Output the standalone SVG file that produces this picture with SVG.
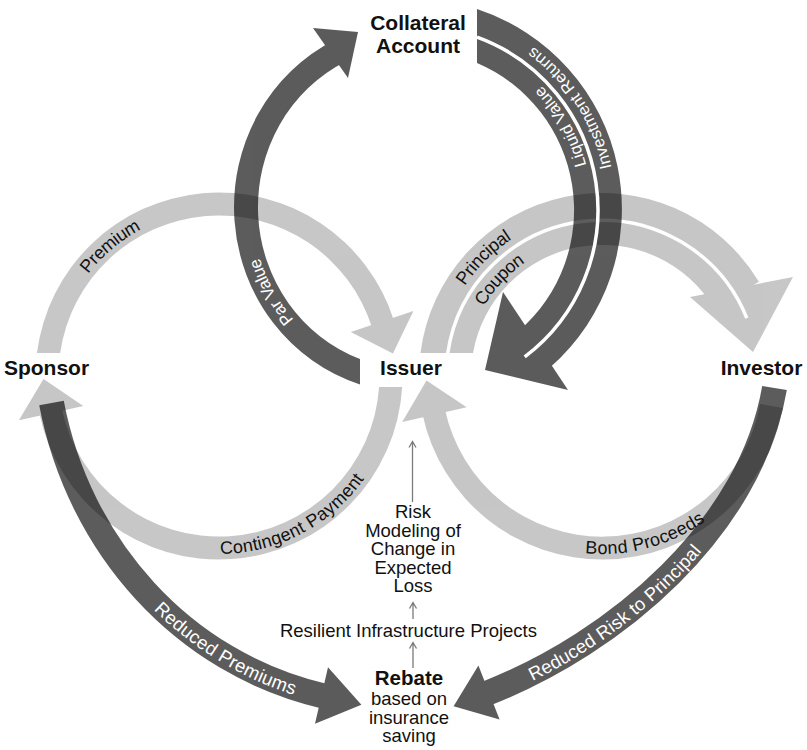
<svg xmlns="http://www.w3.org/2000/svg" width="807" height="750" viewBox="0 0 807 750">
<defs>
<style>
.node{font-family:"Liberation Sans",Arial,Helvetica,sans-serif;font-weight:bold;font-size:21px;fill:#111;text-anchor:middle}
.note{font-family:"Liberation Sans",Arial,Helvetica,sans-serif;font-size:18.5px;fill:#111;text-anchor:middle}
.light{opacity:0.22}
.dark{opacity:0.64}
.band{fill:#000}
.sband{fill:none;stroke:#000;stroke-width:25;stroke-linecap:butt}
.gap{fill:none;stroke:#fff;stroke-width:3.5}
.lbl{font-family:"Liberation Sans",Arial,Helvetica,sans-serif;font-size:18px;text-anchor:middle}
.w{fill:#fff}
.k{fill:#111}
.thin{stroke:#7a7a7a;stroke-width:1.3;fill:none}
</style>
<path id="tp-premium" d="M57.4,317.2 A172,172 0 0 1 189.1,206.6"/>
<path id="tp-contingent" d="M160.2,537.6 A172,172 0 0 0 385.1,420.5"/>
<path id="tp-principal" d="M437.8,332 A170,170 0 0 1 558,211.8"/>
<path id="tp-coupon" d="M462.1,346.3 A143,143 0 0 1 557.8,240"/>
<path id="tp-bond" d="M516,525 A172,172 0 0 0 751,462"/>
<path id="tp-par" d="M330,357.7 A168,174 0 0 1 246,207"/>
<path id="tp-invret" d="M605.7,250.7 A196,196 0 0 0 454.7,18.3"/>
<path id="tp-liquid" d="M579.7,256 A172,172 0 0 0 460,44.3"/>
<path id="tp-redprem" d="M51.5,403 C78.7,546 182.4,663.3 324.4,696.2"/>
<path id="tp-redrisk" d="M489,692.5 C619.3,641.5 750.7,527.9 774.5,390"/>
</defs>
<rect width="807" height="750" fill="#fff"/>

<g id="connectors">
  <g id="conn-premium" class="light">
    <path class="band" d="M36.95,353 A183.5,183.5 0 0 1 394,320.8 L372.1,327.7 A160.5,160.5 0 0 0 60.16,353 Z"/>
    <polygon class="band" points="413.4,310.9 392.9,353.6 350.8,331.9"/>
  </g>
  <g id="conn-contingent" class="light">
    <path class="band" d="M402.2,387 A183.5,183.5 0 0 1 39.2,412.6 L61.7,408 A160.5,160.5 0 0 0 379.1,387 Z"/>
    <polygon class="band" points="83.3,406.1 43.5,379 18.9,420.3"/>
  </g>
  <g id="conn-bond" class="light">
    <path class="band" d="M782.7,407.9 A183.5,183.5 0 0 1 422.5,414.2 L445,409.4 A160.5,160.5 0 0 0 760.1,403.9 Z"/>
    <polygon class="band" points="466.6,407.3 426.5,380.6 402.2,422.1"/>
  </g>
  <g id="conn-principal-coupon" class="light">
    <path class="band" d="M420.5,353 A183,183 0 0 1 758.9,281.8 L714.3,308.5 A131,131 0 0 0 473,353 Z"/>
    <polygon class="band" points="690,297 753,352 793,277"/>
    <path class="gap" d="M447.7,353.5 A156,156 0 0 1 746.8,318.1"/>
  </g>
  <g id="conn-par" class="dark">
    <path class="band" d="M360,384.4 A180,186 0 0 1 335.1,39.8 L345.6,61.4 A156,162 0 0 0 360,359 Z"/>
    <polygon class="band" points="313,28 358,32 348,78"/>
  </g>
  <g id="conn-collateral-issuer">
    <g class="dark">
      <path class="band" d="M477,9 A210.5,210.5 0 0 1 550.5,367 L519,330.8 A160,160 0 0 0 477,62.9 Z"/>
      <polygon class="band" points="503,292 485,370 568,390"/>
    </g>
    <path class="gap" d="M477,37.1 A184,184 0 0 1 524.7,356.9"/>
  </g>
  <g id="conn-reduced-premiums" class="dark">
    <path class="sband" d="M51.5,403 C78.7,546 182.4,663.3 324.4,696.2"/>
    <polygon class="band" points="328,667.3 361.4,704.7 315,723.7"/>
  </g>
  <g id="conn-reduced-risk" class="dark">
    <path class="sband" d="M774.5,388 C750.7,527.9 616.5,642.6 486.2,693.6"/>
    <polygon class="band" points="478.4,665.5 453.6,706.3 499.6,719.5"/>
  </g>
  <g id="conn-thin">
    <path class="thin" d="M412.5,502 V442 M409,447.5 L412.5,441.5 L416,447.5"/>
    <path class="thin" d="M413,619 V603 M409.5,608.5 L413,602.5 L416.5,608.5"/>
    <path class="thin" d="M413,668 V643 M409.5,648.5 L413,642.5 L416.5,648.5"/>
  </g>
</g>

<g id="connector-labels">
  <text class="lbl k" dominant-baseline="central"><textPath href="#tp-premium" startOffset="50%" dominant-baseline="central">Premium</textPath></text>
  <text class="lbl k" dominant-baseline="central"><textPath href="#tp-contingent" startOffset="50%" dominant-baseline="central">Contingent Payment</textPath></text>
  <text class="lbl k" dominant-baseline="central"><textPath href="#tp-principal" startOffset="50%" dominant-baseline="central">Principal</textPath></text>
  <text class="lbl k" dominant-baseline="central"><textPath href="#tp-coupon" startOffset="52%" dominant-baseline="central">Coupon</textPath></text>
  <text class="lbl k" dominant-baseline="central"><textPath href="#tp-bond" startOffset="50%" dominant-baseline="central">Bond Proceeds</textPath></text>
  <text class="lbl w" style="font-size:17px" dominant-baseline="central"><textPath href="#tp-par" startOffset="50%" dominant-baseline="central">Par Value</textPath></text>
  <text class="lbl w" style="font-size:16.5px" dominant-baseline="central"><textPath href="#tp-invret" startOffset="50%" dominant-baseline="central">Investment Returns</textPath></text>
  <text class="lbl w" style="font-size:16.5px" dominant-baseline="central"><textPath href="#tp-liquid" startOffset="50%" dominant-baseline="central">Liquid Value</textPath></text>
  <text class="lbl w" style="font-size:18.5px" dominant-baseline="central"><textPath href="#tp-redprem" startOffset="313" dominant-baseline="central">Reduced Premiums</textPath></text>
  <text class="lbl w" style="font-size:18.5px" dominant-baseline="central"><textPath href="#tp-redrisk" startOffset="150" dominant-baseline="central">Reduced Risk to Principal</textPath></text>
</g>

<g id="node-collateral">
  <text class="node" x="418" y="30">Collateral</text>
  <text class="node" x="418" y="53">Account</text>
</g>
<g id="node-issuer"><text class="node" x="411" y="375">Issuer</text></g>
<g id="node-sponsor"><text class="node" x="46.5" y="375">Sponsor</text></g>
<g id="node-investor"><text class="node" x="761.5" y="375">Investor</text></g>
<g id="node-risk-modeling">
  <text class="note" x="413" y="518">Risk</text>
  <text class="note" x="413" y="536.5">Modeling of</text>
  <text class="note" x="413" y="555">Change in</text>
  <text class="note" x="413" y="573.5">Expected</text>
  <text class="note" x="413" y="592">Loss</text>
</g>
<g id="node-resilient"><text class="note" x="408.5" y="637">Resilient Infrastructure Projects</text></g>
<g id="node-rebate">
  <text class="node" style="font-size:20.5px" x="409" y="685">Rebate</text>
  <text class="note" x="409" y="705">based on</text>
  <text class="note" x="409" y="723.5">insurance</text>
  <text class="note" x="409" y="742">saving</text>
</g>
</svg>
